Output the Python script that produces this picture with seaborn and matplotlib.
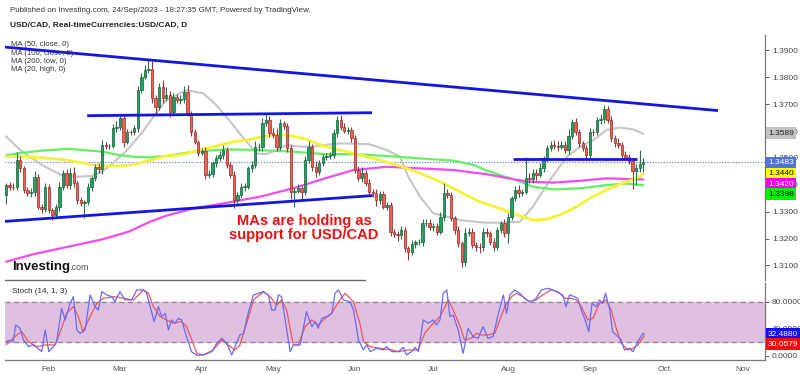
import numpy as np
import pandas as pd
import seaborn as sns
import matplotlib.pyplot as plt

# USD/CAD daily closes (16 Jan - 22 Sep 2023)
close = [1.3399, 1.3393, 1.3390, 1.3492, 1.3461, 1.3381, 1.3368, 1.3374, 1.3430, 1.3319,
         1.3309, 1.3393, 1.3306, 1.3288, 1.3319, 1.3393, 1.3443, 1.3399, 1.3443, 1.3405,
         1.3343, 1.3331, 1.3337, 1.3393, 1.3424, 1.3467, 1.3457, 1.3548, 1.3544, 1.3545,
         1.3610, 1.3616, 1.3647, 1.3560, 1.3597, 1.3596, 1.3613, 1.3752, 1.3802, 1.3827,
         1.3829, 1.3721, 1.3690, 1.3765, 1.3721, 1.3734, 1.3672, 1.3728, 1.3715, 1.3718,
         1.3746, 1.3666, 1.3597, 1.3560, 1.3519, 1.3527, 1.3436, 1.3440, 1.3480, 1.3498,
         1.3511, 1.3529, 1.3474, 1.3436, 1.3343, 1.3362, 1.3393, 1.3393, 1.3461, 1.3474,
         1.3542, 1.3539, 1.3628, 1.3641, 1.3591, 1.3585, 1.3542, 1.3628, 1.3618, 1.3536,
         1.3374, 1.3378, 1.3387, 1.3374, 1.3492, 1.3542, 1.3467, 1.3449, 1.3480, 1.3504,
         1.3507, 1.3511, 1.3591, 1.3641, 1.3616, 1.3601, 1.3604, 1.3573, 1.3455, 1.3424,
         1.3445, 1.3405, 1.3374, 1.3368, 1.3343, 1.3366, 1.3319, 1.3325, 1.3226, 1.3217,
         1.3212, 1.3232, 1.3164, 1.3151, 1.3180, 1.3186, 1.3188, 1.3257, 1.3259, 1.3242,
         1.3247, 1.3226, 1.3282, 1.3368, 1.3362, 1.3275, 1.3232, 1.3182, 1.3114, 1.3220,
         1.3226, 1.3176, 1.3170, 1.3167, 1.3226, 1.3220, 1.3189, 1.3170, 1.3232, 1.3257,
         1.3222, 1.3282, 1.3350, 1.3381, 1.3371, 1.3374, 1.3424, 1.3420, 1.3445, 1.3438,
         1.3461, 1.3498, 1.3536, 1.3548, 1.3544, 1.3542, 1.3549, 1.3529, 1.3581, 1.3635,
         1.3597, 1.3554, 1.3536, 1.3511, 1.3597, 1.3595, 1.3641, 1.3643, 1.3680, 1.3641,
         1.3573, 1.3554, 1.3548, 1.3511, 1.3504, 1.3488, 1.3452, 1.3461, 1.3477, 1.3483]
first_open = 1.3362

# wick lengths in pips above / below the candle body
wick_up = [8, 10, 12, 31, 15, 10, 12, 14, 20, 12, 8, 15, 10, 8, 10, 18, 12, 15, 20, 25,
           10, 12, 8, 15, 10, 12, 15, 20, 10, 8, 15, 20, 18, 12, 10, 8, 10, 15, 12, 20,
           35, 30, 12, 15, 25, 30, 15, 12, 10, 15, 20, 25, 10, 12, 8, 10, 12, 15, 10, 12,
           15, 20, 10, 12, 15, 10, 15, 12, 10, 15, 20, 15, 20, 27, 15, 20, 25, 15, 10, 12,
           12, 10, 15, 10, 15, 20, 10, 20, 12, 10, 10, 12, 15, 14, 20, 15, 12, 10, 12, 15,
           20, 10, 15, 12, 15, 12, 10, 12, 10, 8, 10, 15, 12, 10, 15, 10, 12, 15, 12, 15,
           10, 12, 15, 37, 15, 12, 10, 15, 10, 20, 15, 12, 10, 12, 15, 12, 10, 15, 12, 10,
           15, 12, 10, 15, 20, 12, 80, 20, 15, 15, 20, 10, 12, 15, 18, 20, 15, 12, 25, 10,
           15, 12, 10, 12, 15, 10, 12, 20, 17, 12, 15, 12, 20, 10, 15, 12, 10, 15, 52, 15]
wick_dn = [35, 12, 10, 10, 15, 12, 10, 12, 15, 10, 15, 12, 10, 19, 12, 15, 12, 10, 15, 12,
           15, 10, 55, 12, 15, 10, 12, 15, 10, 12, 10, 15, 12, 20, 10, 12, 10, 15, 12, 10,
           12, 15, 25, 12, 15, 10, 20, 12, 10, 15, 12, 10, 15, 10, 12, 10, 15, 12, 10, 12,
           10, 15, 10, 12, 31, 12, 10, 15, 10, 12, 10, 12, 15, 10, 12, 10, 15, 12, 10, 15,
           25, 55, 10, 25, 12, 10, 15, 20, 12, 10, 10, 12, 10, 15, 12, 10, 12, 15, 12, 10,
           12, 10, 15, 12, 20, 15, 10, 12, 15, 12, 20, 12, 15, 31, 12, 15, 10, 15, 12, 10,
           15, 12, 10, 15, 12, 10, 15, 12, 18, 15, 12, 10, 15, 20, 12, 15, 12, 15, 12, 10,
           15, 38, 12, 10, 15, 12, 10, 15, 12, 20, 10, 12, 15, 10, 12, 15, 10, 12, 15, 10,
           12, 15, 10, 20, 15, 12, 10, 15, 12, 10, 15, 12, 10, 15, 12, 10, 69, 52, 12, 28]

# moving averages, sampled along the lines (bar number, price)
ma20_bar = [0, 4, 10, 15.5, 20, 24, 27, 30, 34, 38, 41.4, 45, 50.7, 55.4, 59, 63, 66.7, 70.4,
            73, 76, 79, 82.6, 86.3, 89.6, 93.8, 102, 107, 110.7, 113, 116.3, 120, 123.8, 127.5,
            131.3, 134.6, 138.8, 144.4, 148, 152.8, 157.5, 161.3, 165, 168.7, 172.5, 176.2, 179]
ma20_val = [1.3580, 1.3529, 1.3474, 1.3436, 1.3430, 1.3433, 1.3449, 1.3480, 1.3529, 1.3591,
            1.3653, 1.3715, 1.3752, 1.3740, 1.3697, 1.3635, 1.3573, 1.3517, 1.3514, 1.3529,
            1.3548, 1.3542, 1.3542, 1.3548, 1.3554, 1.3551, 1.3529, 1.3504, 1.3430, 1.3356,
            1.3294, 1.3282, 1.3269, 1.3263, 1.3259, 1.3259, 1.3263, 1.3319, 1.3418, 1.3504,
            1.3542, 1.3566, 1.3604, 1.3613, 1.3606, 1.3589]
ma50_bar = [0, 4, 10, 15.5, 20, 24, 28, 32, 36, 40, 45, 49, 54.5, 60, 64, 67.6, 71, 75, 79,
            83.5, 89, 93.8, 99.4, 105, 110.7, 116.3, 121.9, 127.5, 133, 138.8, 144.4, 148,
            151.9, 155.6, 159.4, 164, 168.7, 173.4, 177.2, 179]
ma50_val = [1.3505, 1.3505, 1.3500, 1.3495, 1.3485, 1.3475, 1.3470, 1.3470, 1.3475, 1.3490,
            1.3507, 1.3511, 1.3529, 1.3548, 1.3560, 1.3566, 1.3576, 1.3585, 1.3585, 1.3573,
            1.3545, 1.3529, 1.3511, 1.3492, 1.3470, 1.3443, 1.3412, 1.3374, 1.3337, 1.3312,
            1.3284, 1.3269, 1.3272, 1.3288, 1.3312, 1.3350, 1.3381, 1.3408, 1.3424, 1.3440]
ma100_bar = [0, 4, 10, 17.5, 22, 27, 31.5, 36, 40.5, 45, 52.6, 62, 71.4, 80.7, 89.6, 97.6,
             107, 116.3, 125.6, 131.3, 134.6, 138.8, 144.4, 148, 153.7, 161.3, 168.7, 174.4, 179]
ma100_val = [1.3510, 1.3518, 1.3527, 1.3534, 1.3529, 1.3523, 1.3511, 1.3504, 1.3502, 1.3507,
             1.3523, 1.3532, 1.3529, 1.3523, 1.3514, 1.3514, 1.3507, 1.3498, 1.3490, 1.3474,
             1.3455, 1.3436, 1.3412, 1.3393, 1.3383, 1.3387, 1.3399, 1.3405, 1.3398]
ma200_bar = [0, 8, 17.5, 27, 34.5, 40.5, 45, 52.6, 62, 71.4, 80.7, 89.6, 97.6, 107, 116.3,
             125.6, 134.6, 138.8, 146.3, 153.7, 161.3, 168.7, 179]
ma200_val = [1.3114, 1.3143, 1.3170, 1.3197, 1.3226, 1.3263, 1.3285, 1.3312, 1.3333, 1.3356,
             1.3387, 1.3424, 1.3455, 1.3467, 1.3461, 1.3455, 1.3440, 1.3430, 1.3412, 1.3408,
             1.3415, 1.3424, 1.3420]

stoch_k = [(0, 20.8), (1.1, 23), (2.0, 20.8), (2.7, 45.5), (3.9, 40.6), (4.9, 23.3), (6.3, 13.4),
           (7.5, 16), (8.6, 12.4), (10, 6), (11, 38.1), (12, 6), (13.3, 13.4), (14.2, 20.8),
           (15.6, 70.2), (16.6, 53), (18, 77.6), (18.9, 87.5), (19.9, 38), (20.8, 33), (22.2, 38),
           (23.6, 90), (25, 72.7), (25.9, 67.7), (26.9, 94.9), (28.3, 90), (29.7, 87.5), (30.6, 80),
           (32, 94.9), (33.4, 82.6), (35.3, 82.6), (36.7, 97.4), (38.6, 97.4), (39.5, 92.4),
           (40.5, 72.7), (41.6, 50.5), (42.8, 72.7), (43.7, 57.9), (44.7, 62.8), (45.6, 38.1),
           (46.5, 53), (47.5, 48), (48.4, 55.4), (49.3, 53), (50.7, 28.2), (52.1, 6), (53.6, 0.5),
           (55.4, 1), (57.8, 6), (59.2, 18.4), (60.6, 25.8), (62, 18.4), (63.4, 1), (64.3, 13.4),
           (65.7, 30.7), (66.7, 33), (68, 62.8), (69.5, 90), (70.9, 92.4), (72.3, 94.9), (73.7, 90),
           (74.6, 67.7), (75.6, 67.7), (76.5, 90), (77.4, 87.5), (78.4, 53), (79.8, 6), (80.7, 15.9),
           (82.6, 15.9), (84.4, 65.3), (85.9, 43), (86.8, 50.5), (87.7, 40.6), (88.7, 55.4),
           (90.1, 57.9), (91.5, 62.8), (92.4, 92.4), (93.4, 97.4), (94.8, 82.6), (96.6, 80),
           (97.6, 67.7), (99, 23.3), (100.4, 8.5), (101.3, 16), (102.3, 6), (104.1, 11), (106, 8.5),
           (106.9, 13.4), (108.3, 6), (110.2, 6), (111.6, 12.4), (112.5, 1), (113.9, 6),
           (114.9, 12.4), (115.8, 6), (117.2, 53), (118.6, 48), (120, 53), (120.9, 45.5),
           (121.9, 53), (122.8, 92.4), (123.8, 97.4), (124.7, 57.9), (125.6, 60.3), (127, 38.1),
           (128.4, 3.5), (129.8, 40.6), (131.2, 28.2), (132.6, 25.8), (134, 43), (135.4, 25.8),
           (136.8, 28.2), (138.2, 60.3), (139.7, 90), (140.6, 62.8), (141.5, 90), (142.9, 97.4),
           (144.3, 92.4), (146.1, 82.6), (147.5, 80), (148.9, 85), (150.4, 97.4), (152.2, 99.8),
           (153.6, 97.4), (155.5, 92.4), (156.4, 90), (157.3, 72.7), (158.3, 90), (159.7, 87.5),
           (160.6, 85), (161.6, 67.7), (163, 48), (163.7, 35.6), (164.6, 77.6), (165.8, 72.7),
           (166.7, 82.6), (167.6, 77.6), (168.4, 92.4), (169.5, 70.2), (170.4, 35.6), (171.9, 28.2),
           (172.8, 23.3), (173.7, 8.5), (175.1, 11), (176.1, 6), (177.5, 20.8), (178.9, 33.2),
           (179.3, 32.5)]
stoch_d = [(0, 16), (3, 30.7), (4.4, 35.6), (6.3, 20.8), (8.6, 13.4), (11.4, 16), (13.8, 16),
           (15.6, 40.6), (17, 62.8), (18.9, 72.7), (20.3, 57.9), (21.6, 35.6), (23.6, 57.9),
           (25.5, 77.6), (27.3, 85), (30.3, 87.5), (33, 85), (35.8, 82.6), (38.6, 97.4), (40, 92.4),
           (41.4, 72.7), (43.3, 57.9), (45.1, 53), (47, 48), (49.3, 50.5), (50.7, 43), (52.2, 23.3),
           (53.6, 3.5), (55.4, 1), (58.2, 8.5), (60.6, 23.3), (63, 13.4), (64.3, 8.5), (65.7, 16),
           (67.6, 48), (69.5, 82.6), (72.3, 94.9), (74.2, 87.5), (76, 75.2), (77.4, 82.6),
           (78.8, 67.7), (80.7, 16), (82.1, 16), (84, 43), (85.9, 53), (87.7, 45.5), (89.1, 53),
           (91.5, 62.8), (93.4, 80), (95.2, 92.4), (97.6, 80), (99.4, 48), (100.4, 20.8),
           (102.3, 13.4), (105, 11), (108.3, 8.5), (110.2, 6), (113.1, 8.5), (115.8, 8.5),
           (117.6, 33.2), (120, 48), (121.9, 57.9), (124.3, 82.6), (125.6, 67.7), (127.4, 45.5),
           (128.8, 23.3), (130.7, 25.8), (132.1, 33.2), (133.5, 30.7), (135.4, 30.7), (137.3, 33.2),
           (138.7, 53), (140.1, 72.7), (142, 87.5), (143.4, 92.4), (145.2, 87.5), (146.9, 80),
           (148.9, 82.6), (150.7, 90), (153.1, 97.4), (155, 95), (157, 85), (158.8, 85),
           (160.2, 82.6), (161.6, 72.7), (163.4, 53), (164.9, 55.4), (166.7, 77.6), (168.5, 82.6),
           (170, 67.7), (171.4, 40.6), (172.8, 18.4), (174.7, 8.5), (176.1, 11), (177.5, 16),
           (179.3, 30.1)]

# hand drawn trend lines (bar number, price)
trend_top = ([-0.3, 200], [1.3912, 1.3676])
trend_bottom = ([-0.3, 103], [1.3264, 1.3360])
resist_line = ([22.8, 102.8], [1.3657, 1.3668])
support_line = ([142.4, 177.2], [1.3497, 1.3497])

last_price = 1.3483
price_ticks = [1.31, 1.32, 1.33, 1.34, 1.35, 1.36, 1.37, 1.38, 1.39]
# right-hand value tags: text, position, face colour, text colour
price_tags = [("1.3589", 1.3592, "#c3c3c3", "#222222"),
              ("1.3483", 1.3483, "#4f74d9", "white"),
              ("1.3440", 1.3442, "#ffff00", "black"),
              ("1.3420", 1.3402, "#ee00ee", "white"),
              ("1.3398", 1.3365, "#00ee00", "black")]
stoch_tags = [("32.4880", 32.0, "#1010ee", "white"),
              ("30.0579", 17.3, "#ee1010", "white")]
note_text = "MAs are holding as\nsupport for USD/CAD"
note_pos = (83.7, 1.3238)

# ---------------------------------------------------------------
sns.set_style("white")
plt.rcParams['font.family'] = ['Liberation Sans', 'DejaVu Sans']

close = np.array(close)
opens = np.r_[first_open, close[:-1]]
highs = np.maximum(opens, close) + np.array(wick_up) / 1e4
lows = np.minimum(opens, close) - np.array(wick_dn) / 1e4
bars = np.arange(len(close))
rising = close >= opens

dates = pd.bdate_range(end="2023-09-22", periods=len(close))
all_days = pd.bdate_range(start=dates[0], end="2023-11-30")
month_pos, month_lab = [], []
for k in range(1, len(all_days)):
    if all_days[k].month != all_days[k - 1].month:
        month_pos.append(k)
        month_lab.append(all_days[k].strftime("%b"))

W, H = 800, 375
fig = plt.figure(figsize=(8, 3.75), dpi=100)
ax = fig.add_axes([5 / W, 1 - 280 / H, 760 / W, 245 / H])
ax2 = fig.add_axes([5 / W, 1 - 360 / H, 760 / W, 77 / H])
xlim = (-0.3, 213.2)

# candles
wick_col = np.where(rising, "#2f6e4c", "#8a3a3a")
ax.vlines(bars, lows, highs, colors=wick_col, lw=0.8, zorder=3)
body_lo = np.minimum(opens, close)
body_h = np.maximum(np.abs(close - opens), 0.00008)
ax.bar(bars, body_h, bottom=body_lo, width=0.66,
       color=np.where(rising, "#1ea35c", "#f2604f"),
       edgecolor=np.where(rising, "#16603a", "#9a2a2a"), linewidth=0.5, zorder=4)

# moving averages
sns.lineplot(x=ma20_bar, y=ma20_val, ax=ax, color="#c6c6c6", lw=1.5, zorder=2)
sns.lineplot(x=ma100_bar, y=ma100_val, ax=ax, color="#63f063", lw=1.6, zorder=2)
sns.lineplot(x=ma200_bar, y=ma200_val, ax=ax, color="#f04cf0", lw=1.6, zorder=2)
sns.lineplot(x=ma50_bar, y=ma50_val, ax=ax, color="#f5f23a", lw=2.0, zorder=2)

for xs, ys in (trend_top, trend_bottom, resist_line, support_line):
    ax.plot(xs, ys, color="#1515e0", lw=2.0, zorder=5, solid_capstyle="butt")
ax.axhline(last_price, color="#5577dd", ls=(0, (1, 1.5)), lw=0.8, zorder=1)

ax.set_xlim(*xlim)
ax.set_ylim(1.3046, 1.3957)
ax.set_xticks([])
ax.yaxis.tick_right()
ax.set_yticks(price_ticks)
ax.set_yticklabels([f"{t:.4f}" for t in price_ticks])
ax.tick_params(axis="y", labelsize=6, colors="#444444", length=3, width=0.6, pad=2)
for s in ("top", "left", "bottom"):
    ax.spines[s].set_visible(False)
ax.spines["right"].set_color("#777777")
ax.spines["right"].set_linewidth(0.9)
ax.plot([0, 360 / 760], [0, 0], transform=ax.transAxes, color="#666666", lw=1.0, clip_on=False)

for txt, yv, fc, tc in price_tags:
    ax.text(1.004, yv, txt, transform=ax.get_yaxis_transform(), ha="left", va="center",
            fontsize=6, color=tc, zorder=6,
            bbox=dict(boxstyle="square,pad=0.28", fc=fc, ec="none"))

ax.text(note_pos[0], note_pos[1], note_text, ha="center", va="center",
        color="#ee1111", fontsize=10.5, fontweight="bold", linespacing=1.0, zorder=6)

# stochastic pane
ax2.axhspan(20, 80, color="#dfc0e0", zorder=0)
ax2.axhline(80, color="#8a8a8a", ls=(0, (4, 3)), lw=0.9, zorder=1)
ax2.axhline(20, color="#8a8a8a", ls=(0, (4, 3)), lw=0.9, zorder=1)
kx, kv = zip(*stoch_k)
dx, dv = zip(*stoch_d)
sns.lineplot(x=list(dx), y=list(dv), ax=ax2, color="#f25555", lw=0.9, zorder=3, sort=False)
sns.lineplot(x=list(kx), y=list(kv), ax=ax2, color="#6a6af5", lw=0.9, zorder=4, sort=False)
ax2.set_xlim(*xlim)
ax2.set_ylim(-6.4, 107.7)
ax2.yaxis.tick_right()
ax2.set_yticks([0, 40, 80])
ax2.set_yticklabels(["0.0000", "40.0000", "80.0000"])
ax2.tick_params(axis="y", labelsize=6, colors="#444444", length=3, width=0.6, pad=2)
ax2.set_xticks(month_pos)
ax2.set_xticklabels(month_lab)
ax2.tick_params(axis="x", labelsize=6, colors="#555555", length=2, width=0.6, pad=2)
ax2.set_ylabel("")
ax.set_ylabel("")
for s in ("top", "left"):
    ax2.spines[s].set_visible(False)
for s in ("right", "bottom"):
    ax2.spines[s].set_color("#777777")
    ax2.spines[s].set_linewidth(0.9)
ax2.text(0.009, 0.93, "Stoch (14, 1, 3)", transform=ax2.transAxes, ha="left", va="top",
         fontsize=5.8, color="#222222")
for txt, yv, fc, tc in stoch_tags:
    ax2.text(1.004, yv, txt, transform=ax2.get_yaxis_transform(), ha="left", va="center",
             fontsize=6, color=tc, zorder=6,
             bbox=dict(boxstyle="square,pad=0.28", fc=fc, ec="none"))

# header texts and legend
fig.text(10 / W, 1 - 11 / H, "Published on Investing.com, 24/Sep/2023 - 18:27:35 GMT, Powered by TradingView.",
         fontsize=5.8, color="#333333", va="center")
fig.text(10 / W, 1 - 25 / H, "USD/CAD, Real-timeCurrencies:USD/CAD, D",
         fontsize=6, fontweight="bold", color="#222222", va="center")
for k, lab in enumerate(["MA (50, close, 0)", "MA (100, close, 0)", "MA (200, low, 0)", "MA (20, high, 0)"]):
    fig.text(11 / W, 1 - (45 + 8.3 * k) / H, lab, fontsize=5.6, color="#333333", va="center")

fig.text(12 / W, 1 - 267 / H, "Investing", fontsize=9.5, fontweight="bold", color="#111111", va="center")
fig.text(69 / W, 1 - 268 / H, ".com", fontsize=6.5, color="#555555", va="center")

fig.savefig("out.png", dpi=100)
